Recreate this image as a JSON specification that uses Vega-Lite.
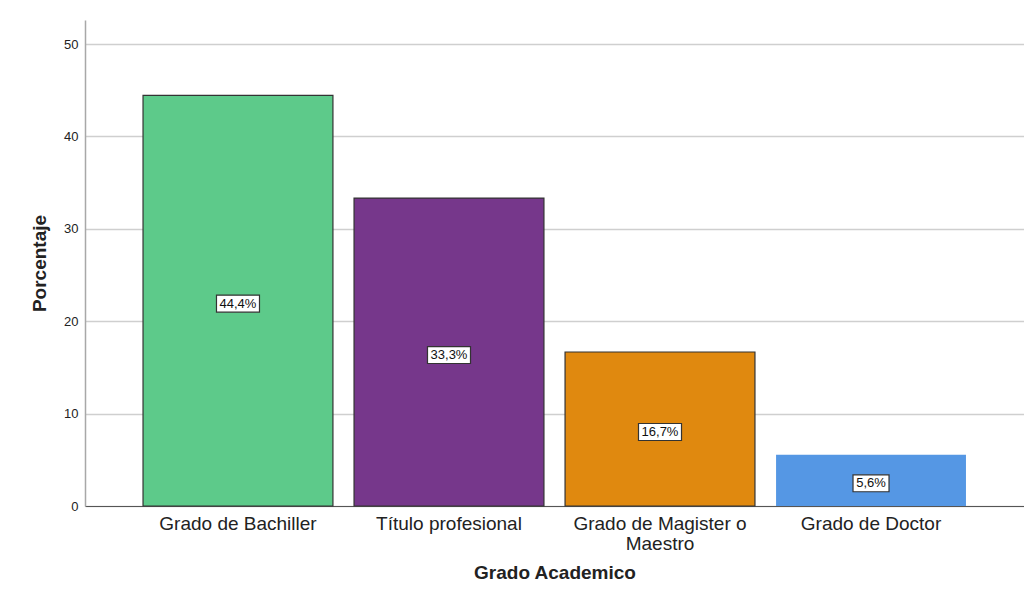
{
  "$schema": "https://vega.github.io/schema/vega-lite/v6.json",
  "width": 939,
  "height": 486,
  "autosize": "none",
  "padding": {"left": 85, "top": 20, "right": 0, "bottom": 95},
  "background": "white",
  "config": {
    "view": {"stroke": null},
    "font": "Liberation Sans"
  },
  "data": {
    "values": [
      {"grado": "Grado de Bachiller", "pct": 44.44, "label": "44,4%"},
      {"grado": "Título profesional", "pct": 33.33, "label": "33,3%"},
      {"grado": "Grado de Magister o Maestro", "pct": 16.67, "label": "16,7%"},
      {"grado": "Grado de Doctor", "pct": 5.56, "label": "5,6%"}
    ]
  },
  "encoding": {
    "x": {
      "field": "grado",
      "type": "nominal",
      "sort": null,
      "scale": {"paddingInner": 0.1, "paddingOuter": 0.275},
      "axis": {
        "title": "Grado Academico",
        "titleFont": "Liberation Sans",
        "titleFontSize": 19,
        "titleFontWeight": "bold",
        "titleColor": "#222",
        "titlePadding": 10,
        "labelAngle": 0,
        "labelFontSize": 19,
        "labelColor": "#222",
        "labelPadding": 8,
        "labelLineHeight": 20,
        "labelLimit": 300,
        "labelExpr": "datum.label == 'Grado de Magister o Maestro' ? ['Grado de Magister o', 'Maestro'] : datum.label",
        "ticks": false,
        "domainColor": "#555",
        "domainWidth": 1.2
      }
    }
  },
  "layer": [
    {
      "mark": {"type": "bar", "strokeWidth": 1.2},
      "encoding": {
        "y": {
          "field": "pct",
          "type": "quantitative",
          "scale": {"domain": [0, 52.6], "nice": false},
          "axis": {
            "title": "Porcentaje",
            "titleFontSize": 19,
            "titleFontWeight": "bold",
            "titleColor": "#222",
            "titlePadding": 14,
            "values": [0, 10, 20, 30, 40, 50],
            "labelFontSize": 13,
            "labelColor": "#222",
            "labelPadding": 7,
            "ticks": false,
            "grid": true,
            "gridColor": "#cfcfcf",
            "gridWidth": 1.5,
            "domainColor": "#a8a8a8",
            "domainWidth": 1.5
          }
        },
        "color": {
          "field": "grado",
          "type": "nominal",
          "sort": null,
          "legend": null,
          "scale": {
            "domain": ["Grado de Bachiller", "Título profesional", "Grado de Magister o Maestro", "Grado de Doctor"],
            "range": ["#5dca8a", "#76378b", "#e0890f", "#5597e4"]
          }
        },
        "stroke": {
          "condition": {"test": "datum.grado === 'Grado de Doctor'", "value": null},
          "value": "#333333"
        }
      }
    },
    {
      "layer": [
        {
          "mark": {"type": "point", "filled": true, "fill": "white", "stroke": "#333", "strokeWidth": 1.2, "opacity": 1, "yOffset": 3},
          "encoding": {
            "y": {"field": "pct", "type": "quantitative", "scale": {"domain": [0, 105.2], "nice": false}, "axis": null},
            "shape": {
              "condition": {"test": "datum.grado === 'Grado de Doctor'", "value": "M-1,-0.47H1V0.47H-1Z"},
              "value": "M-1,-0.395H1V0.395H-1Z"
            },
            "size": {
              "condition": {"test": "datum.grado === 'Grado de Doctor'", "value": 1296},
              "value": 1849
            }
          }
        },
        {
          "mark": {"type": "text", "fontSize": 13, "color": "#111", "baseline": "middle", "align": "center", "yOffset": 3},
          "encoding": {
            "y": {"field": "pct", "type": "quantitative", "scale": {"domain": [0, 105.2], "nice": false}, "axis": null},
            "text": {"field": "label"}
          }
        }
      ]
    }
  ],
  "resolve": {"scale": {"y": "independent"}}
}
